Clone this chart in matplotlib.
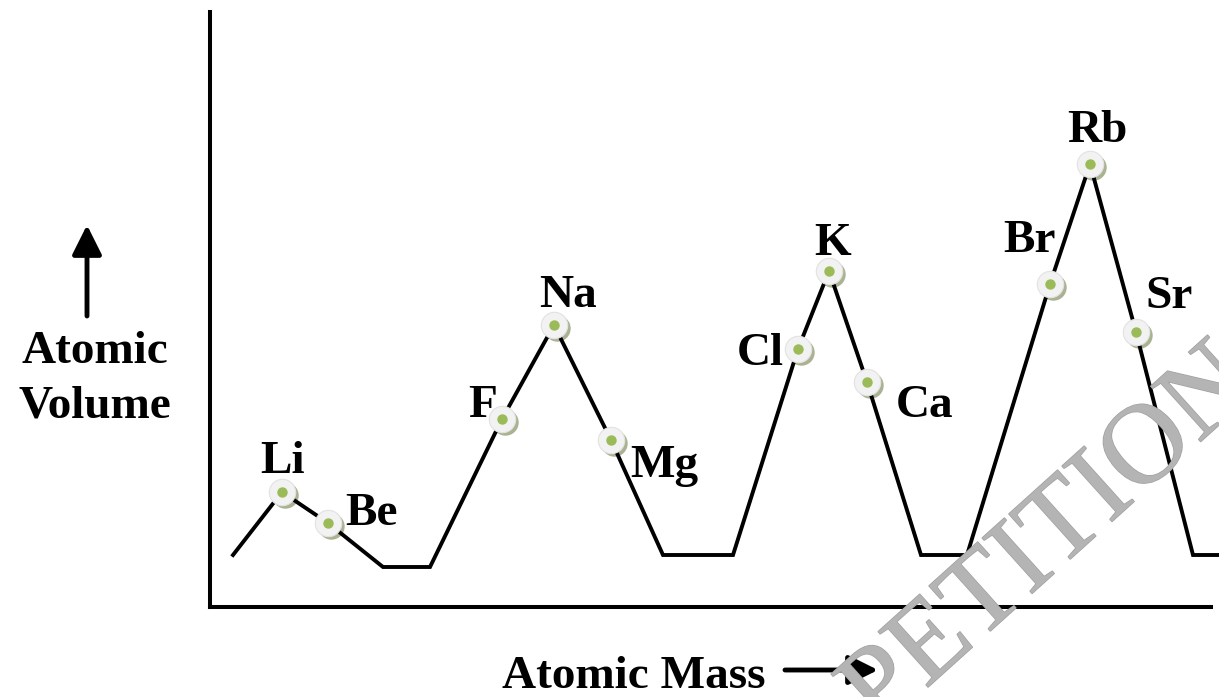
import matplotlib.pyplot as plt
import matplotlib.patheffects as pe
from matplotlib.transforms import offset_copy

# curve vertices (units, origin at the axes corner)
curve_x = [23, 72, 118, 173, 220, 292, 344, 401, 453, 523, 588, 619, 657, 711, 757, 840, 880, 926, 983, 1009]
curve_y = [52, 115, 84, 40, 40, 188, 282, 167, 52, 52, 258, 336, 225, 52, 52, 323, 443, 275, 52, 52]

# labelled elements
elements = ['Li', 'Be', 'F', 'Na', 'Mg', 'Cl', 'K', 'Ca', 'Br', 'Rb', 'Sr']
elem_x = [72, 118, 292, 344, 401, 588, 619, 657, 840, 880, 926]
elem_y = [115, 84, 188, 282, 167, 258, 336, 225, 323, 443, 275]

# label placement relative to marker (pixels)
label_off = {'Li': (1, 19), 'Be': (44, -2), 'F': (-19, 2), 'Na': (14, 18),
             'Mg': (53, -37), 'Cl': (-38, -16), 'K': (4, 16), 'Ca': (58, -35),
             'Br': (-20, 32), 'Rb': (7, 22), 'Sr': (33, 24)}

serif = 'Liberation Serif'

fig = plt.figure(figsize=(12.19, 6.97), dpi=100)
ax = fig.add_axes([210 / 1219, 90 / 697, 1001 / 1219, 595 / 697])
ax.set_xlim(0, 1001)
ax.set_ylim(0, 595)
ax.set_xticks([])
ax.set_yticks([])
for s in ['top', 'right']:
    ax.spines[s].set_visible(False)
for s in ['left', 'bottom']:
    ax.spines[s].set_linewidth(2.9)
    ax.spines[s].set_zorder(6)
ax.patch.set_alpha(0)

# watermark (only its visible part)
fig.text(860, 697 - 711, 'PETITION', ha='left', va='center', transform=None,
         fontsize=82, family=serif, color='#b4b4b4', rotation=42,
         rotation_mode='anchor', zorder=0,
         path_effects=[pe.withStroke(linewidth=1.0, foreground='#a0a0a0')])

ax.plot(curve_x, curve_y, color='black', lw=2.8, zorder=3, clip_on=False,
        solid_joinstyle='miter')

shadow = offset_copy(ax.transData, fig=fig, x=3, y=-3, units='dots')
ax.plot(elem_x, elem_y, 'o', ms=19, color='#a9b391', mec='none', transform=shadow, zorder=2)
ax.plot(elem_x, elem_y, 'o', ms=19, color='#f2f2f2', mec='#e2e2e2', mew=0.8, zorder=4)
ax.plot(elem_x, elem_y, 'o', ms=7.5, color='#9bbb59', mec='none', zorder=5)

for name, x, y in zip(elements, elem_x, elem_y):
    ax.annotate(name, (x, y), xytext=label_off[name], textcoords='offset pixels',
                ha='center', va='baseline', fontsize=34, fontweight='bold',
                family=serif, zorder=7)

# axis titles and arrows
fig.text(95, 697 - 363, 'Atomic', ha='center', va='baseline', fontsize=34,
         fontweight='bold', family=serif, transform=None)
fig.text(95, 697 - 417, 'Volume', ha='center', va='baseline', fontsize=34,
         fontweight='bold', family=serif, transform=None)
fig.text(634, 697 - 688, 'Atomic Mass', ha='center', va='baseline', fontsize=34,
         fontweight='bold', family=serif, transform=None)

arrow = dict(arrowstyle='-|>,head_length=0.9,head_width=0.45', lw=3.5, color='black',
             shrinkA=0, shrinkB=0, mutation_scale=20)
ax.annotate('', xy=(87, 697 - 225), xytext=(87, 697 - 316),
            xycoords='figure pixels', textcoords='figure pixels', arrowprops=arrow)
ax.annotate('', xy=(878, 697 - 670), xytext=(785, 697 - 670),
            xycoords='figure pixels', textcoords='figure pixels', arrowprops=arrow)

fig.savefig('out.png', dpi=100)
